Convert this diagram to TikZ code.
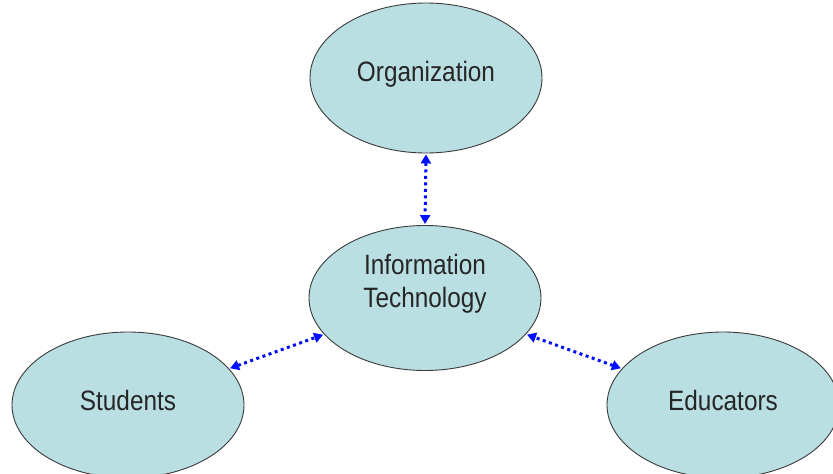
\documentclass[tikz,border=0pt]{standalone}
\usepackage{fontspec}
\setmainfont{Liberation Sans}
\newfontfamily\lblfont[FakeStretch=0.87]{Liberation Sans}
\usetikzlibrary{shapes.geometric,arrows.meta}
\definecolor{ellfill}{HTML}{B9DFE3}
\definecolor{ellline}{HTML}{3A3A3A}
\definecolor{txt}{HTML}{262626}
\definecolor{arrblue}{HTML}{0010FF}
\tikzset{
  bubble/.style={ellipse, draw=ellline, line width=0.9pt, fill=ellfill, inner sep=0pt,
    minimum width=232pt, minimum height=146pt},
  lbl/.style={align=center, text=txt, inner sep=0pt,
    font=\lblfont\fontsize{28}{33}\selectfont},
  link/.style={draw=arrblue, line width=3pt, dash pattern=on 3pt off 3.5pt,
    {Triangle[length=9pt,width=10pt]}-{Triangle[length=9pt,width=10pt]}, shorten <=1pt, shorten >=1pt}
}
\begin{document}
\begin{tikzpicture}[x=1pt,y=-1pt]
\useasboundingbox (0,0) rectangle (833,474);
\clip (0,0) rectangle (833,474);
\node[bubble, minimum height=150pt] (org) at (426,78) {};
\node[bubble, minimum height=145pt] (it) at (425,298) {};
\node[bubble] (stu) at (128,405) {};
\node[bubble] (edu) at (723,405) {};
\node[lbl] (orgt) at ([yshift=4pt]org.center) {Organization};
\node[lbl] (itt) at ([yshift=14pt]it.center) {Information\\Technology};
\node[lbl] (stut) at ([yshift=5pt]stu.center) {Students};
\node[lbl] (edut) at ([yshift=5pt]edu.center) {Educators};
\draw[link] (org.south) -- (it.north);
\draw[link] (stu) -- (it);
\draw[link] (edu) -- (it);
\end{tikzpicture}
\end{document}
